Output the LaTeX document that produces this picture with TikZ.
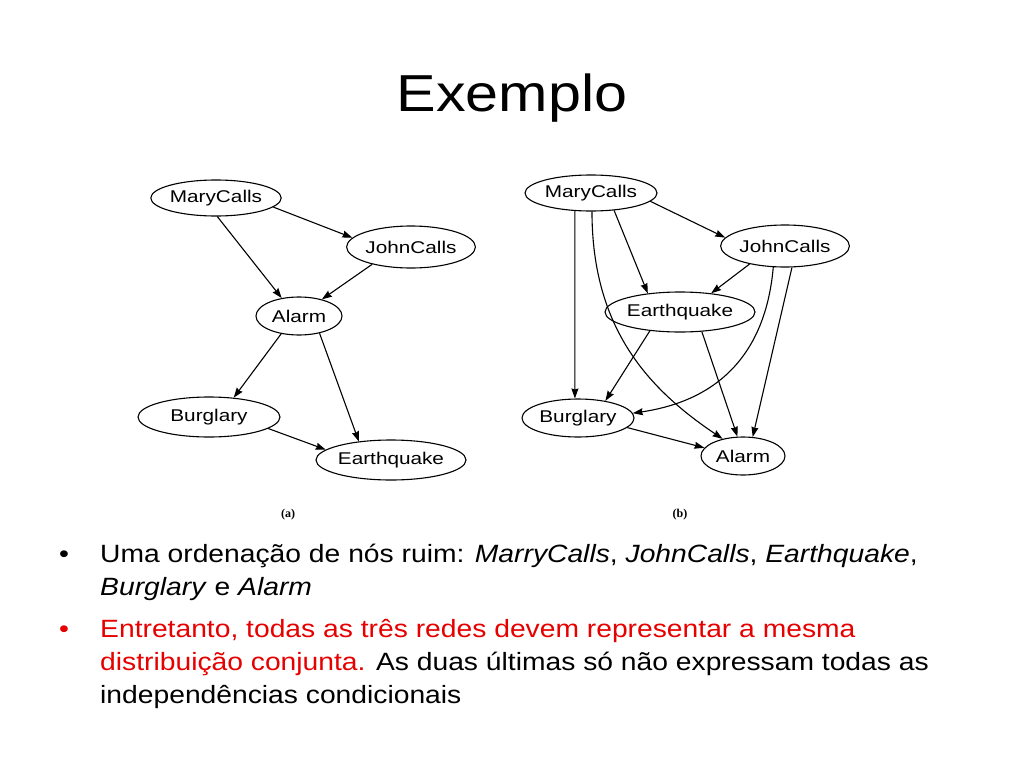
\documentclass[tikz,border=0pt]{standalone}
\usepackage{fontspec}
\usetikzlibrary{arrows.meta,shapes.geometric}
\setmainfont{Liberation Sans}
\newfontfamily\titlefont[FakeStretch=1.14]{Liberation Sans}
\newfontfamily\bodyfont[FakeStretch=1.13]{Liberation Sans}
\newfontfamily\nodefont[FakeStretch=1.22]{Liberation Sans}
\newfontfamily\capfont{Liberation Serif}
\definecolor{slidered}{RGB}{230,0,0}
\tikzset{
  bn/.style={draw, ellipse, line width=1.1pt, inner sep=0pt, font=\nodefont\fontsize{17}{18}\selectfont},
  arr/.style={line width=1.1pt, -{Stealth[length=10pt,width=7pt,inset=1pt]}},
  body/.style={anchor=base west, inner sep=0pt, font=\bodyfont\fontsize{25}{28}\selectfont},
  capt/.style={inner sep=0pt, font=\capfont\bfseries\fontsize{12}{13}\selectfont}
}
\begin{document}
\begin{tikzpicture}[x=1pt,y=-1pt]
\useasboundingbox[fill=white] (0,0) rectangle (1024,768);
% title
\node[inner sep=0pt, anchor=base, font=\titlefont\fontsize{52}{60}\selectfont] (title) at (512,111) {Exemplo};

% (a)
\node[bn, minimum width=128pt, minimum height=36pt] (am) at (216,198) {MaryCalls};
\node[bn, minimum width=126pt, minimum height=42pt] (aj) at (411,247) {JohnCalls};
\node[bn, minimum width=86pt, minimum height=38pt] (aa) at (299,316) {Alarm};
\node[bn, minimum width=142pt, minimum height=40pt] (ab) at (209,417) {Burglary};
\node[bn, minimum width=144pt, minimum height=40pt] (ae) at (391,460) {Earthquake};
\draw[arr] (am.-9) -- (aj.171);
\draw[arr] (am.-86) -- (aa.134);
\draw[arr] (aj.204) -- (aa.36);
\draw[arr] (aa.-135) -- (ab.38);
\draw[arr] (aa.-40) -- (ae.150);
\draw[arr] (ab.-11) -- (ae.171);
\node[capt] (capa) at (288,515) {(a)};

% (b)
\node[bn, minimum width=132pt, minimum height=36pt] (bm) at (591,193) {MaryCalls};
\node[bn, minimum width=128pt, minimum height=42pt] (bj) at (785,246) {JohnCalls};
\node[bn, minimum width=142pt, minimum height=40pt] (be) at (680,312) {Earthquake};
\node[bn, minimum width=112pt, minimum height=38pt] (bb) at (578,418) {Burglary};
\node[bn, minimum width=84pt, minimum height=38pt] (ba) at (743,456) {Alarm};
\draw[arr] (bm.-8) -- (bj.172);
\draw[arr] (bm.-132) -- (bb.99);
\draw[arr] (bm.-87) .. controls (592,330) and (650,390) .. (ba.140);
\draw[arr] (bm.-37) -- (be.150);
\draw[arr] (bj.-153) -- (be.31);
\draw[arr] (bj.-119) .. controls (766,350) and (722,400) .. (bb.5);
\draw[arr] (bj.-72) -- (ba.63);
\draw[arr] (be.-148) -- (bb.32);
\draw[arr] (be.-42) -- (ba.106);
\draw[arr] (bb.-11) -- (ba.168);
\node[capt] (capb) at (680,515) {(b)};

% bullets
\node[body] (bul1) at (59,562) {•};
\node[body] (l1) at (100,562) {Uma ordenação de nós ruim: \textit{MarryCalls}, \textit{JohnCalls}, \textit{Earthquake},};
\node[body] (l2) at (100,595) {\textit{Burglary} e \textit{Alarm}};
\node[body, text=slidered] (bul2) at (59,637) {•};
\node[body, text=slidered] (l3) at (100,637) {Entretanto, todas as três redes devem representar a mesma};
\node[body] (l4) at (100,670) {\textcolor{slidered}{distribuição conjunta.} As duas últimas só não expressam todas as};
\node[body] (l5) at (100,703) {independências condicionais};
\end{tikzpicture}
\end{document}
